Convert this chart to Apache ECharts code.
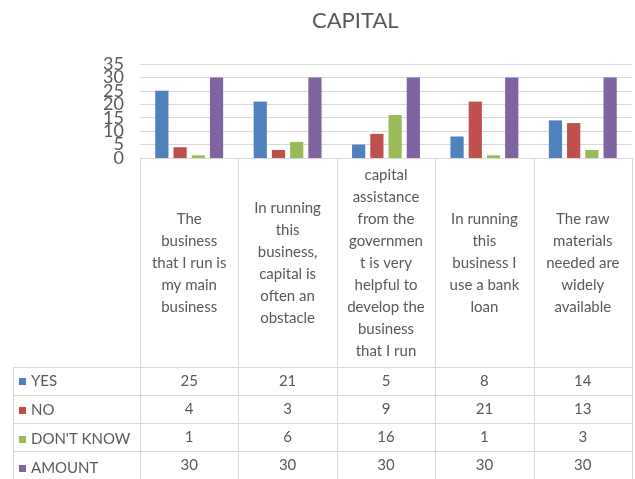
<!DOCTYPE html>
<html>
<head>
<meta charset="utf-8">
<script src="https://cdn.jsdelivr.net/npm/echarts@6/dist/echarts.min.js"></script>
<style>html,body{margin:0;padding:0;background:#fff;}#c{width:635px;height:479px;}</style>
</head>
<body>
<div id="c"></div>
<script>
var categories = [
  "The\nbusiness\nthat I run is\nmy main\nbusiness",
  "In running\nthis\nbusiness,\ncapital is\noften an\nobstacle",
  "capital\nassistance\nfrom the\ngovernmen\nt is very\nhelpful to\ndevelop the\nbusiness\nthat I run",
  "In running\nthis\nbusiness I\nuse a bank\nloan",
  "The raw\nmaterials\nneeded are\nwidely\navailable"
];
var seriesNames = ["YES", "NO", "DON'T KNOW", "AMOUNT"];
var yesValues = [25, 21, 5, 8, 14];
var noValues = [4, 3, 9, 21, 13];
var dontKnowValues = [1, 6, 16, 1, 3];
var amountValues = [30, 30, 30, 30, 30];
var yTicks = [0, 5, 10, 15, 20, 25, 30, 35];

var allValues = [yesValues, noValues, dontKnowValues, amountValues];
var colors = ['#4F81BD', '#C0504D', '#9BBB59', '#8064A2'];
var FONT = 'Lato, "Liberation Sans", sans-serif';
var TXT = '#595959';
var BORDER = '#D9D9D9';

// layout
var W = 635, H = 479;
var gridLeft = 140, gridRight = 632, gridTop = 64, gridBottom = 158;
var tableLeft = 13;
var rowTops = [367, 395, 423, 451, 479];

var xAxes = [{
  type: 'category', data: categories, gridIndex: 0,
  axisLine: {show: false}, axisTick: {show: false},
  axisLabel: {interval: 0, color: TXT, fontFamily: FONT, fontSize: 15, lineHeight: 22,
    verticalAlign: 'middle', align: 'center', margin: 105}
}];
allValues.forEach(function (vals, r) {
  var center = (rowTops[r] + rowTops[r + 1]) / 2;
  xAxes.push({
    type: 'category', data: categories, gridIndex: 0, position: 'bottom',
    offset: center - gridBottom,
    axisLine: {show: false}, axisTick: {show: false},
    axisLabel: {interval: 0, margin: 0, color: TXT, fontFamily: FONT, fontSize: 15,
      verticalAlign: 'middle', align: 'center',
      formatter: function (v, i) { return String(vals[i]); }}
  });
});

var yMin = yTicks[0], yMax = yTicks[yTicks.length - 1], yStep = yTicks[1] - yTicks[0];
function yAxisDef(parity, showSplit) {
  return {
    type: 'value', min: yMin, max: yMax, interval: yStep, position: 'left', offset: 0,
    axisLine: {show: false}, axisTick: {show: false},
    axisLabel: {margin: 16, color: TXT, fontFamily: FONT, fontSize: 18,
      showMinLabel: true, showMaxLabel: true,
      formatter: function (v) {
        return (Math.round(v / yStep) % 2 === parity) ? String(v) : '';
      }},
    splitLine: {show: showSplit, lineStyle: {color: BORDER}}
  };
}

var graphics = [];
function line(x1, y1, x2, y2) {
  graphics.push({type: 'line', silent: true, z: 0,
    shape: {x1: x1, y1: y1, x2: x2, y2: y2},
    style: {stroke: BORDER, lineWidth: 1}});
}
var n = categories.length;
var colW = (gridRight - gridLeft) / n;
for (var i = 0; i <= n; i++) {
  var x = Math.round(gridLeft + i * colW) + 0.5;
  line(x, gridBottom, x, H);
}
line(tableLeft + 0.5, rowTops[0], tableLeft + 0.5, H);
line(gridLeft, gridBottom + 0.5, gridRight, gridBottom + 0.5);
for (var r = 0; r < rowTops.length; r++) {
  line(tableLeft, rowTops[r] + 0.5, gridRight, rowTops[r] + 0.5);
}

var chart = echarts.init(document.getElementById('c'), null, {renderer: 'canvas'});
chart.setOption({
  animation: false,
  backgroundColor: '#fff',
  color: colors,
  title: {text: 'CAPITAL', left: 307, top: 5,
    textStyle: {color: TXT, fontFamily: FONT, fontSize: 22, fontWeight: 'normal'}},
  legend: {
    orient: 'vertical', left: 19, top: rowTops[0] + 7, itemGap: 14, padding: 0,
    height: 110,
    itemWidth: 7, itemHeight: 7, icon: 'rect',
    textStyle: {color: TXT, fontFamily: FONT, fontSize: 15, lineHeight: 14},
    data: seriesNames
  },
  grid: {left: gridLeft, right: W - gridRight, top: gridTop, bottom: H - gridBottom, containLabel: false},
  xAxis: xAxes,
  yAxis: [yAxisDef(0, true), yAxisDef(1, false)],
  series: seriesNames.map(function (name, k) {
    return {name: name, type: 'bar', data: allValues[k], xAxisIndex: 0, yAxisIndex: 0,
      barGap: '38%', barCategoryGap: '31%', silent: true};
  }),
  graphic: graphics
});
</script>
</body>
</html>
